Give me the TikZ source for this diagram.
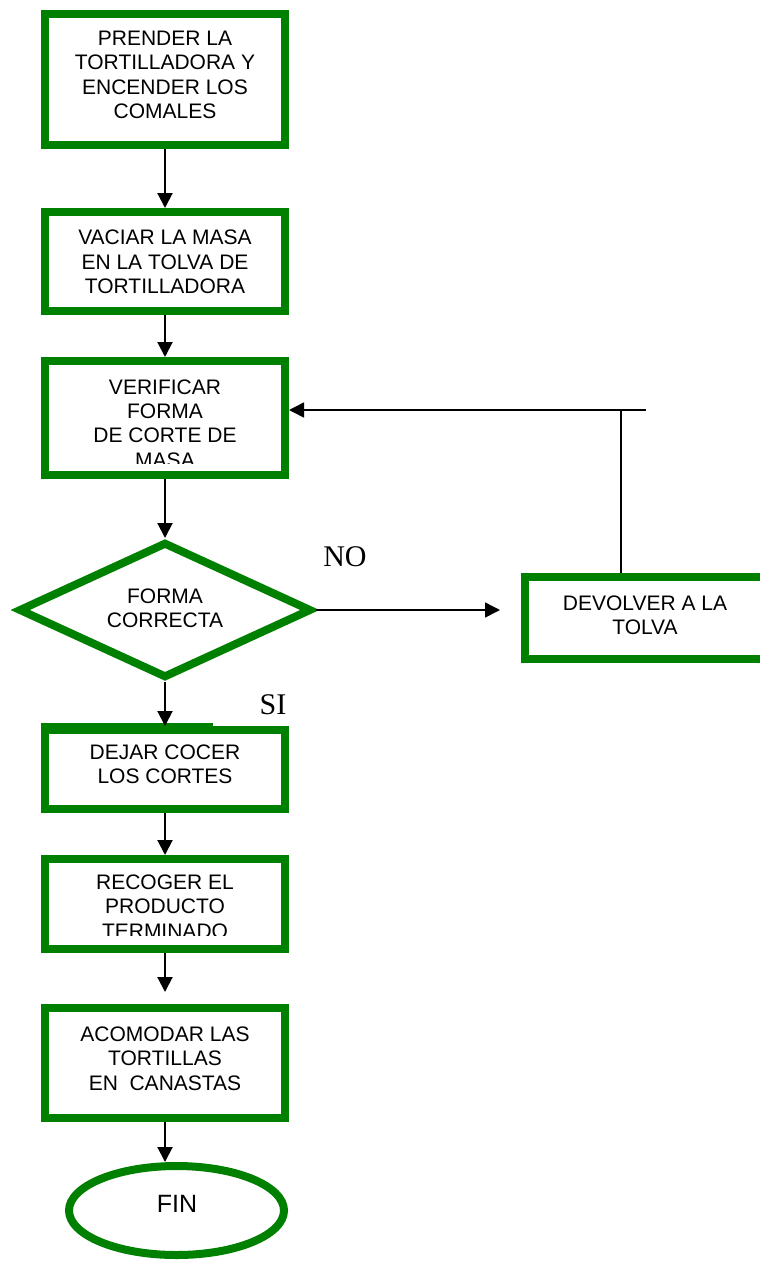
\documentclass[tikz,border=0pt]{standalone}
\usepackage{fontspec}
\setmainfont{Liberation Serif}
\newfontfamily\arialfont{Liberation Sans}
\usetikzlibrary{arrows.meta,shapes.geometric}
\definecolor{boxgreen}{RGB}{0,128,0}

\begin{document}
\begin{tikzpicture}[x=1pt,y=-1pt,
  stepbox/.style={draw=boxgreen,fill=white,line width=8pt,rectangle,inner sep=0pt,minimum width=240pt},
  decision/.style={draw=boxgreen,fill=white,line width=8pt,diamond,inner sep=0pt,minimum width=293pt,minimum height=136pt},
  endshape/.style={draw=boxgreen,fill=white,line width=8pt,ellipse,inner sep=0pt,minimum width=215pt,minimum height=89pt},
  txt/.style={font=\arialfont\fontsize{21}{24.3}\selectfont,align=center,inner sep=0pt},
  bigtxt/.style={font=\arialfont\fontsize{25}{29}\selectfont,inner sep=0pt},
  answer/.style={font=\fontsize{30}{36}\selectfont,inner sep=0pt},
  flow/.style={line width=2pt,-{Triangle[length=15pt,width=15pt]}},
  thinflow/.style={line width=1.5pt,-{Triangle[length=15pt,width=15pt]}},
  thinline/.style={line width=1.5pt}
]
\useasboundingbox (0,0) rectangle (760,1261);

% process boxes
\node[stepbox,minimum height=131pt] (b1) at (165,79.5) {};
\node[stepbox,minimum height=99pt]  (b2) at (165,261.5) {};
\node[stepbox,minimum height=114pt] (b3) at (165,418) {};
\node[decision] (d) at (165,610) {};
\node[stepbox,minimum width=241pt,minimum height=82pt] (b7) at (645.5,618) {};
\node[stepbox,minimum height=79pt]  (b4) at (165,769.5) {};
\draw[boxgreen,line width=4pt] (41,725) -- (213,725);
\node[stepbox,minimum height=90pt]  (b5) at (165,904) {};
\node[stepbox,minimum height=110pt] (b6) at (165,1063) {};
\node[endshape] (fin) at (176.5,1210.5) {};

% texts
\node[txt] (t1) at (165,75) {PRENDER LA\\TORTILLADORA Y\\ENCENDER LOS\\COMALES};
\node[txt] (t2) at (165,262) {VACIAR LA MASA\\EN LA TOLVA DE\\TORTILLADORA};
\begin{scope}
  \clip (49,365) rectangle (281,463);
  \node[txt] (t3) at (165,423.5) {VERIFICAR\\FORMA\\DE CORTE DE\\MASA};
\end{scope}
\node[txt] (td) at (165,608) {FORMA\\CORRECTA};
\node[txt] (t7) at (645,615.5) {DEVOLVER A LA\\TOLVA};
\node[txt] (t4) at (165,764) {DEJAR COCER\\LOS CORTES};
\begin{scope}
  \clip (49,863) rectangle (281,935);
  \node[txt] (t5) at (165,906.5) {RECOGER EL\\PRODUCTO\\TERMINADO};
\end{scope}
\node[txt] (t6) at (165,1058.5) {ACOMODAR LAS\\TORTILLAS\\EN\ \ CANASTAS};
\node[bigtxt] (tfin) at (177,1204) {FIN};

\node[answer] (no) at (345,556.7) {NO};
\node[answer] (si) at (273,705) {SI};

% connectors
\draw[flow] (b1.south) -- (b2.north);
\draw[flow] (b2.south) -- (b3.north);
\draw[flow] (b3.south) -- (d.north);
\draw[flow] (d.south) -- (b4.north);
\draw[flow] (b4.south) -- (b5.north);
\draw[flow,shorten >=12pt] (b5.south) -- (b6.north);
\draw[flow] (b6.south) -- (b6.south |- fin.north);
\draw[thinflow,shorten >=21pt] (d.east) -- (d.east -| b7.west);

% return path to the hopper
\coordinate (corner) at (621,410);
\coordinate (lineend) at (646,410);
\draw[thinline] (corner |- b7.north) -- (corner);
\draw[thinflow] (lineend) -- (lineend -| b3.east);
\end{tikzpicture}
\end{document}
